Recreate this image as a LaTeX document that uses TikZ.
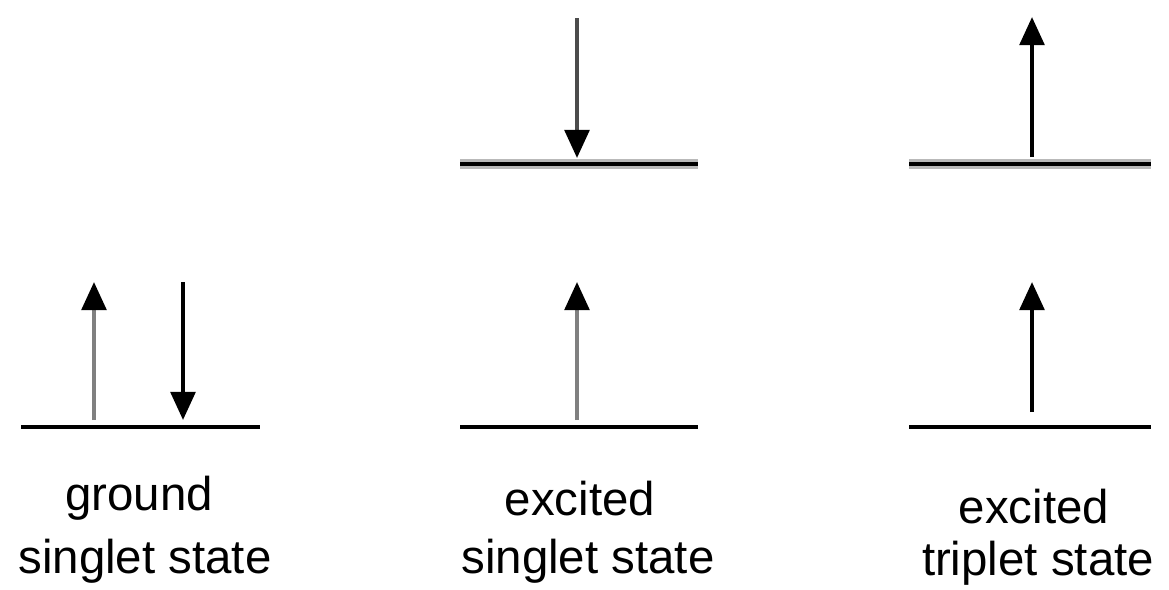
\documentclass[tikz,border=0pt]{standalone}
\usepackage{fontspec}
\setmainfont{Liberation Sans}
\usetikzlibrary{arrows.meta}

\begin{document}
\begin{tikzpicture}[x = 0.02cm, y = -0.02cm,
    level/.style={line width=2.4pt, black},
    upperlevel/.style={line width=6pt, gray!55, postaction={draw, line width=2.3pt, black}},
    spin/.style={line width=2.3pt, -{Triangle[length=16pt, width=14pt, color=black]}},
    caption/.style={anchor=base, inner sep=0pt, font=\fontsize{27}{30}\selectfont}]
        \useasboundingbox (0, 0) rectangle (1169, 589);

        % energy levels
        \coordinate (g1) at (21, 427);   \coordinate (g2) at (260, 427);
        \coordinate (s1) at (460, 427);  \coordinate (s2) at (698, 427);
        \coordinate (s3) at (460, 164);  \coordinate (s4) at (698, 164);
        \coordinate (t1) at (909, 427);  \coordinate (t2) at (1151, 427);
        \coordinate (t3) at (909, 164);  \coordinate (t4) at (1151, 164);

        \draw[level] (g1) -- (g2);
        \draw[level] (s1) -- (s2);
        \draw[upperlevel] (s3) -- (s4);
        \draw[level] (t1) -- (t2);
        \draw[upperlevel] (t3) -- (t4);

        % spins
        \coordinate (gup0) at (94, 420);   \coordinate (gup1) at (94, 282);
        \coordinate (gdn0) at (183, 282);  \coordinate (gdn1) at (183, 420);
        \coordinate (sup0) at (577, 420);  \coordinate (sup1) at (577, 282);
        \coordinate (sdn0) at (577, 18);   \coordinate (sdn1) at (577, 158);
        \coordinate (tup0) at (1032, 412); \coordinate (tup1) at (1032, 282);
        \coordinate (tup2) at (1032, 157); \coordinate (tup3) at (1032, 17);

        \draw[spin, gray] (gup0) -- (gup1);
        \draw[spin, black] (gdn0) -- (gdn1);
        \draw[spin, gray] (sup0) -- (sup1);
        \draw[spin, gray!60!black] (sdn0) -- (sdn1);
        \draw[spin, black] (tup0) -- (tup1);
        \draw[spin, black] (tup2) -- (tup3);

        % captions
        \node[caption] at (139, 510) (gnd1) {ground};
        \node[caption] at (145, 573) (gnd2) {singlet state};
        \node[caption] at (580, 515) (sng1) {excited};
        \node[caption] at (588, 573) (sng2) {singlet state};
        \node[caption] at (1034, 523) (trp1) {excited};
        \node[caption] at (1038, 575) (trp2) {triplet state};
        \end{tikzpicture}
\end{document}
